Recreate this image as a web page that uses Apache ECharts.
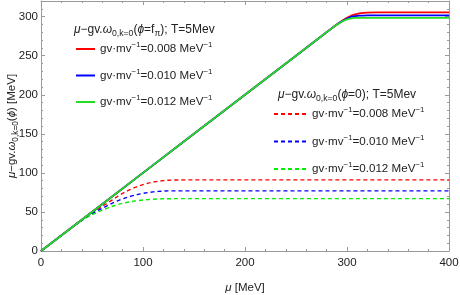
<!DOCTYPE html>
<html>
<head>
<meta charset="utf-8">
<script src="https://cdn.jsdelivr.net/npm/echarts@6/dist/echarts.min.js"></script>
<style>html,body{margin:0;padding:0;background:#fff}#c{width:460px;height:295px}</style>
</head>
<body>
<div id="c"></div>
<script>
// ---- data ----
const muSolid = [0, 50, 100, 150, 200, 250, 280, 284, 288, 292, 296, 300, 304, 308, 312, 316, 320, 330, 340, 400];
const solid008 = [0, 50, 100, 150, 200, 250, 280, 284, 288, 291.8, 295.2, 298.5, 301.2, 303, 304.1, 304.8, 305.2, 305.5, 305.5, 305.5];
const solid010 = [0, 50, 100, 150, 200, 250, 280, 284, 288, 291.6, 294.8, 297.6, 299.6, 300.7, 301.2, 301.4, 301.5, 301.5, 301.5, 301.5];
const solid012 = [0, 50, 100, 150, 200, 250, 280, 284, 287.9, 291.3, 294.2, 296.5, 297.8, 298.3, 298.5, 298.5, 298.5, 298.5, 298.5, 298.5];

const muDash = [0, 30, 35, 40, 45, 50, 55, 60, 65, 70, 75, 80, 85, 90, 95, 100, 105, 110, 115, 120, 125, 130, 140, 400];
const dash008 = [0, 30, 34.9, 39.6, 44.2, 48.6, 52.8, 57, 61.3, 65.5, 69.8, 73.8, 77.2, 80.2, 82.8, 85, 86.8, 88.2, 89.3, 90.1, 90.6, 90.85, 91, 91];
const dash010 = [0, 30, 34.8, 39.3, 43.6, 47.5, 51.2, 54.7, 58, 61.2, 64.1, 66.7, 68.9, 70.8, 72.4, 73.8, 74.9, 75.7, 76.3, 76.7, 76.9, 77, 77, 77];
const dash012 = [0, 29.8, 34.6, 38.9, 42.9, 46.4, 49.5, 52.3, 54.9, 57.3, 59.3, 61, 62.4, 63.6, 64.5, 65.2, 65.8, 66.2, 66.6, 66.8, 66.9, 67, 67, 67];

const couplings = ['0.008', '0.010', '0.012'];
const xTicks = [0, 100, 200, 300, 400];
const yTicks = [0, 50, 100, 150, 200, 250, 300];

// ---- build ----
const FONT = 'Liberation Sans, Arial, sans-serif';
function mkRich(fs) {
  const base = { fontFamily: FONT, color: '#222', fontWeight: 'normal' };
  return {
    it: Object.assign({ fontStyle: 'italic', fontSize: fs, lineHeight: 16 }, base),
    sub: Object.assign({ fontSize: fs * 0.72, verticalAlign: 'bottom', lineHeight: 12 }, base),
    sup: Object.assign({ fontSize: fs * 0.68, verticalAlign: 'top', lineHeight: 12 }, base),
    n: Object.assign({ fontSize: fs, lineHeight: 16 }, base)
  };
}
const richTitle = mkRich(12);
const richLegend = mkRich(11.6);
const richAxis = mkRich(11.5);
function zip(xs, ys) { return xs.map((x, i) => [x, ys[i]]); }
const colorsSolid = ['#ff0000', '#0000ff', '#22dd22'];
const colorsDash = ['#ff0000', '#0000ff', '#00ee00'];
const solidData = [solid008, solid010, solid012];
const dashData = [dash008, dash010, dash012];

const series = [];
dashData.forEach((d, i) => {
  series.push({
    name: 'd' + couplings[i], type: 'line', data: zip(muDash, d), xAxisIndex: 0, yAxisIndex: 0,
    smooth: false, symbol: 'none', z: 2,
    lineStyle: { color: colorsDash[i], width: 1.4, type: [4, 3] }, itemStyle: { color: colorsDash[i] }
  });
});
solidData.forEach((d, i) => {
  series.push({
    name: 's' + couplings[i], type: 'line', data: zip(muSolid, d), xAxisIndex: 0, yAxisIndex: 0,
    smooth: false, symbol: 'none', z: 3,
    lineStyle: { color: colorsSolid[i], width: 1.8 }, itemStyle: { color: colorsSolid[i] }
  });
});

const legendFmt = name => '{n|gv·mv}{sup|−1}{n|=' + name.slice(1) + ' MeV}{sup|−1}';
const axCol = '#9a9a9a';
function xAx(pos, interval, len, label, line) {
  return {
    type: 'value', position: pos, min: 0, max: 400, interval: interval,
    axisLine: { show: line, onZero: false, lineStyle: { color: axCol, width: 1 } },
    axisTick: { show: true, inside: true, length: len, lineStyle: { color: axCol } },
    axisLabel: { show: label, color: '#222', fontSize: 11.5, fontFamily: FONT, margin: 6 },
    splitLine: { show: false }
  };
}
function yAx(pos, interval, len, label, line) {
  return {
    type: 'value', position: pos, min: 0, max: 320, interval: interval,
    axisLine: { show: line, onZero: false, lineStyle: { color: axCol, width: 1 } },
    axisTick: { show: true, inside: true, length: len, lineStyle: { color: axCol } },
    axisLabel: { show: label, color: '#222', fontSize: 11.5, fontFamily: FONT, margin: 3, showMaxLabel: false,
      formatter: v => (yTicks.indexOf(v) >= 0 ? String(v) : '') },
    splitLine: { show: false }
  };
}
const xMain = xAx('bottom', 100, 4, true, true);
xMain.axisLabel.formatter = v => (xTicks.indexOf(v) >= 0 ? String(v) : '');
xMain.name = '{it|μ}{n| [MeV]}';
xMain.nameLocation = 'middle';
xMain.nameGap = 29;
xMain.nameMoveOverlap = false;
xMain.nameTextStyle = { rich: richAxis };
const yMain = yAx('left', 50, 4, true, true);
yMain.name = '{it|μ}{n|−gv.}{it|ω}{sub|0,k=0}{n|(}{it|ϕ}{n|) [MeV]}';
yMain.nameLocation = 'middle';
yMain.nameGap = 21;
yMain.nameRotate = 90;
yMain.nameMoveOverlap = false;
yMain.nameTextStyle = { rich: richAxis };

const option = {
  animation: false,
  backgroundColor: '#fff',
  grid: { left: 41, right: 11, top: 1, bottom: 44, containLabel: false, outerBoundsMode: 'none' },
  xAxis: [xMain, xAx('top', 100, 4, false, true), xAx('bottom', 20, 2, false, false), xAx('top', 20, 2, false, false)],
  yAxis: [yMain, yAx('right', 50, 4, false, true), yAx('left', 10, 2, false, false), yAx('right', 10, 2, false, false)],
  title: [
    { left: 69, top: 17, text: '{it|μ}{n|−gv.}{it|ω}{sub|0,k=0}{n|(}{it|ϕ}{n|=f}{sub|π}{n|); T=5Mev}', textStyle: { rich: richTitle, fontWeight: 'normal' } },
    { left: 273, top: 82, text: '{it|μ}{n|−gv.}{it|ω}{sub|0,k=0}{n|(}{it|ϕ}{n|=0); T=5Mev}', textStyle: { rich: richTitle, fontWeight: 'normal' } }
  ],
  legend: [
    { left: 70, top: 36, orient: 'vertical', itemWidth: 19, itemHeight: 14, itemGap: 12.5,
      itemStyle: { opacity: 0 },
      data: couplings.map(c => 's' + c), formatter: legendFmt, textStyle: { rich: richLegend }, selectedMode: false },
    { left: 268, top: 101, orient: 'vertical', itemWidth: 33, itemHeight: 14, itemGap: 13.5,
      itemStyle: { opacity: 0 },
      data: couplings.map(c => 'd' + c), formatter: legendFmt, textStyle: { rich: richLegend }, selectedMode: false }
  ],
  series: series
};
const chart = echarts.init(document.getElementById('c'), null, { renderer: 'canvas' });
chart.setOption(option);
</script>
</body>
</html>
